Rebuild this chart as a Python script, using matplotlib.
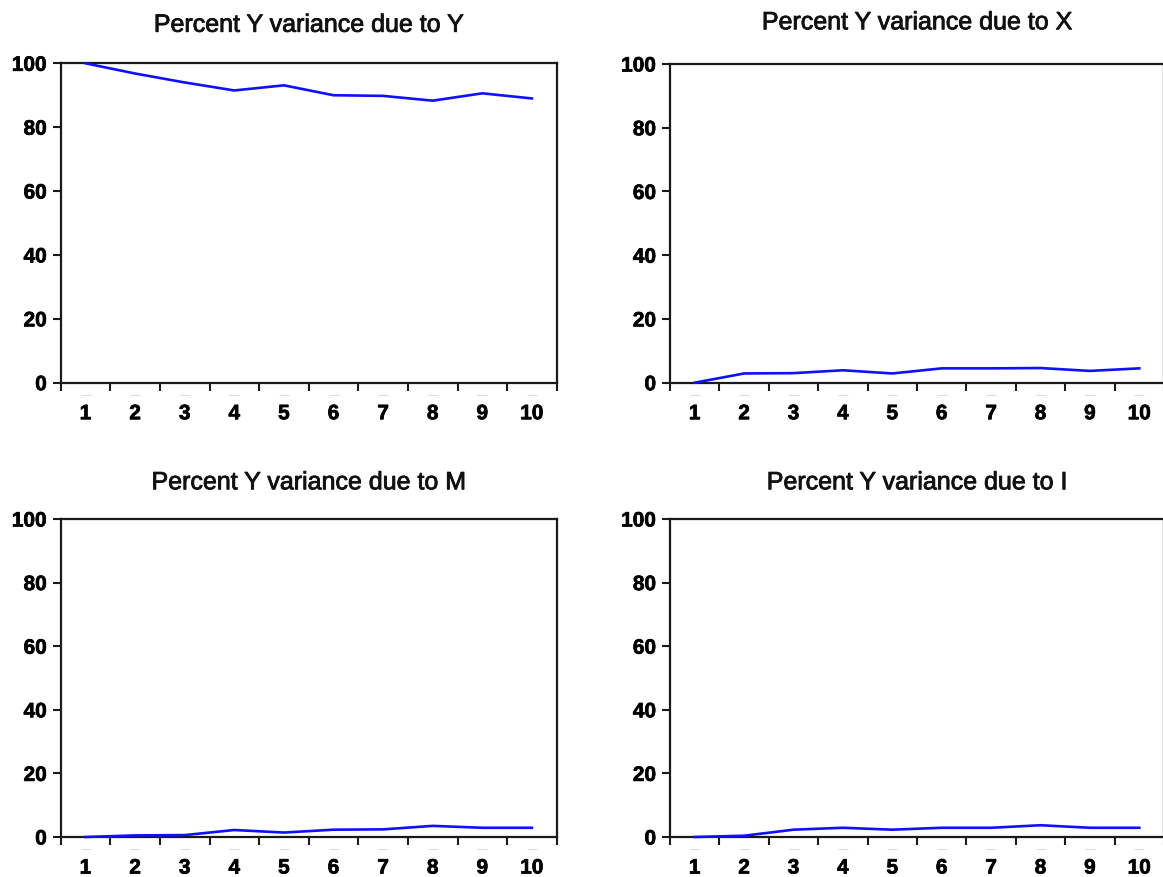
import matplotlib
matplotlib.use("Agg")
import matplotlib.pyplot as plt
import matplotlib.transforms as mtransforms
import matplotlib.patheffects as pe
from matplotlib.ticker import FixedLocator, NullFormatter, FixedFormatter

plt.rcParams['font.family'] = ['Liberation Sans', 'DejaVu Sans']

periods = [1, 2, 3, 4, 5, 6, 7, 8, 9, 10]
period_labels = ["1", "2", "3", "4", "5", "6", "7", "8", "9", "10"]
y_ticks = [0, 20, 40, 60, 80, 100]

due_to_Y = [100.0, 96.8, 94.0, 91.5, 93.1, 90.0, 89.8, 88.3, 90.6, 89.0]
due_to_X = [0.0, 2.9, 3.0, 3.9, 2.9, 4.5, 4.5, 4.6, 3.7, 4.5]
due_to_M = [0.0, 0.5, 0.6, 2.2, 1.4, 2.3, 2.4, 3.5, 2.9, 2.9]
due_to_I = [0.0, 0.4, 2.3, 2.9, 2.3, 2.9, 2.9, 3.7, 2.9, 2.9]

titles = ["Percent Y variance due to Y", "Percent Y variance due to X",
          "Percent Y variance due to M", "Percent Y variance due to I"]
series = [due_to_Y, due_to_X, due_to_M, due_to_I]

W, H = 1163, 877
fig = plt.figure(figsize=(W / 100, H / 100), dpi=100)

# pixel boxes: left, right, top, bottom
boxes = [(60.7, 556.7, 63.3, 382.7),
         (670.0, 1164.0, 64.0, 382.7),
         (60.7, 556.7, 519.0, 837.0),
         (670.0, 1164.0, 519.0, 837.0)]
title_pads = [22.7, 25.0, 21.4, 21.4]

for (l, r, t, b), title, vals, tp in zip(boxes, titles, series, title_pads):
    ax = fig.add_axes([l / W, (H - b) / H, (r - l) / W, (b - t) / H])
    ax.plot(periods, vals, color='#1010ff', lw=1.9, zorder=3, clip_on=False)
    ax.set_xlim(0.5, 10.5)
    ax.set_ylim(0, 100)
    bounds = [p - 0.5 for p in periods] + [periods[-1] + 0.5]
    ax.xaxis.set_major_locator(FixedLocator(bounds))
    ax.xaxis.set_major_formatter(NullFormatter())
    ax.xaxis.set_minor_locator(FixedLocator(periods))
    ax.xaxis.set_minor_formatter(FixedFormatter(period_labels))
    ax.tick_params(axis='x', which='major', direction='out', length=6, width=1.5,
                   color='#1a1a1a')
    ax.tick_params(axis='x', which='minor', length=0, pad=15.5, labelsize=15)
    ax.set_yticks(y_ticks)
    ax.tick_params(axis='y', which='major', direction='out', length=5.5, width=1.5,
                   pad=4.5, labelsize=15, color='#1a1a1a')
    for lab in ax.get_xticklabels(minor=True) + ax.get_yticklabels():
        lab.set_fontweight('bold')
        lab.set_path_effects([pe.withStroke(linewidth=0.5, foreground='black')])
    for sp in ax.spines.values():
        sp.set_linewidth(1.6)
        sp.set_color('#1a1a1a')
    # faint grey dashes under the axis at each period
    trans = mtransforms.offset_copy(
        mtransforms.blended_transform_factory(ax.transData, ax.transAxes),
        fig=fig, y=-12, units='dots')
    ax.plot(periods, [0] * len(periods), linestyle='none', marker='_',
            markersize=7, markeredgewidth=0.8, color='#dcdcdc',
            transform=trans, clip_on=False)
    tt = ax.set_title(title, fontsize=18, pad=tp, color='#111111')
    tt.set_path_effects([pe.withStroke(linewidth=0.6, foreground='#111111')])

fig.savefig("out.png", dpi=100)
